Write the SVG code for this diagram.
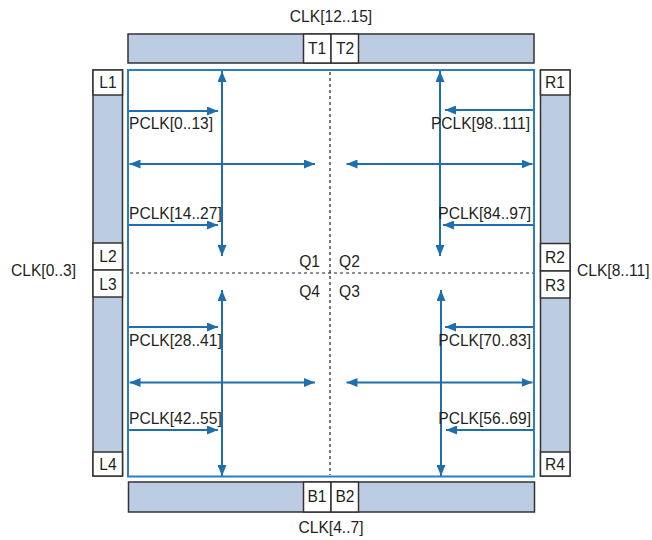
<svg xmlns="http://www.w3.org/2000/svg" width="652" height="540" viewBox="0 0 652 540">
<style>
text{font-family:"Liberation Sans",Arial,sans-serif;font-size:15.6px;fill:#231f20}
.bar{fill:#bccce3;stroke:#333;stroke-width:1.5}
.box{fill:#fff;stroke:#333;stroke-width:1.5}
.c{text-anchor:middle}
.r{text-anchor:end}
.ar{stroke:#1f6fb0;stroke-width:2;fill:none}
.dash{stroke:#222;stroke-width:1.2;stroke-dasharray:3 3;fill:none}
</style>
<defs>
<marker id="ah" viewBox="0 0 11 9" refX="11" refY="4.5" markerWidth="11" markerHeight="9" markerUnits="userSpaceOnUse" orient="auto-start-reverse">
<path d="M0,0 L11,4.5 L0,9 Z" fill="#1f6fb0"/>
</marker>
</defs>
<g id="top-bar">
<rect class="bar" x="128" y="34" width="406" height="29"/>
<rect class="box" x="303.5" y="34" width="27.5" height="29"/>
<text class="c" x="317" y="54">T1</text>
<rect class="box" x="331" y="34" width="27.5" height="29"/>
<text class="c" x="345" y="54">T2</text>
<text class="c" x="331" y="22">CLK[12..15]</text>
</g>
<g id="bottom-bar">
<rect class="bar" x="128.5" y="482" width="406" height="30"/>
<rect class="box" x="303.5" y="482" width="27.5" height="30"/>
<text class="c" x="317" y="502">B1</text>
<rect class="box" x="331" y="482" width="27.5" height="30"/>
<text class="c" x="345" y="502">B2</text>
<text class="c" x="331" y="533">CLK[4..7]</text>
</g>
<g id="left-bar">
<rect class="bar" x="93" y="70" width="29.5" height="406"/>
<rect class="box" x="93" y="70" width="29.5" height="25"/>
<text class="c" x="108" y="88">L1</text>
<rect class="box" x="93" y="243" width="29.5" height="27"/>
<text class="c" x="108" y="262">L2</text>
<rect class="box" x="93" y="270" width="29.5" height="27"/>
<text class="c" x="108" y="290">L3</text>
<rect class="box" x="93" y="452" width="29.5" height="24"/>
<text class="c" x="108" y="470">L4</text>
<text x="11" y="276">CLK[0..3]</text>
</g>
<g id="right-bar">
<rect class="bar" x="540.5" y="70" width="29.5" height="406"/>
<rect class="box" x="540.5" y="70" width="29.5" height="25"/>
<text class="c" x="555" y="88">R1</text>
<rect class="box" x="540.5" y="243.5" width="29.5" height="27.5"/>
<text class="c" x="555" y="263">R2</text>
<rect class="box" x="540.5" y="271" width="29.5" height="27"/>
<text class="c" x="555" y="291">R3</text>
<rect class="box" x="540.5" y="452" width="29.5" height="24"/>
<text class="c" x="555" y="470">R4</text>
<text x="577" y="276">CLK[8..11]</text>
</g>
<g id="core">
<rect x="128" y="70" width="406" height="406.5" fill="none" stroke="#2b7fc0" stroke-width="2"/>
<line class="dash" x1="330" y1="72" x2="330" y2="475"/>
<line class="dash" x1="130" y1="273" x2="533" y2="273"/>
<text class="r" x="320" y="267">Q1</text>
<text x="339" y="267">Q2</text>
<text class="r" x="320" y="297">Q4</text>
<text x="339" y="297">Q3</text>
</g>
<g id="connectors">
<line class="ar" x1="222" y1="256" x2="222" y2="71" marker-start="url(#ah)" marker-end="url(#ah)"/>
<line class="ar" x1="222" y1="290" x2="222" y2="476" marker-start="url(#ah)" marker-end="url(#ah)"/>
<line class="ar" x1="440" y1="256" x2="440" y2="71" marker-start="url(#ah)" marker-end="url(#ah)"/>
<line class="ar" x1="441" y1="290" x2="441" y2="476" marker-start="url(#ah)" marker-end="url(#ah)"/>
<line class="ar" x1="129.5" y1="164" x2="315" y2="164" marker-start="url(#ah)" marker-end="url(#ah)"/>
<line class="ar" x1="346.5" y1="164" x2="532.5" y2="164" marker-start="url(#ah)" marker-end="url(#ah)"/>
<line class="ar" x1="129.5" y1="382.5" x2="315" y2="382.5" marker-start="url(#ah)" marker-end="url(#ah)"/>
<line class="ar" x1="346.5" y1="382.5" x2="532.5" y2="382.5" marker-start="url(#ah)" marker-end="url(#ah)"/>
<line class="ar" x1="129" y1="111" x2="218" y2="111" marker-end="url(#ah)"/>
<line class="ar" x1="129" y1="225" x2="218" y2="225" marker-end="url(#ah)"/>
<line class="ar" x1="129" y1="327" x2="218" y2="327" marker-end="url(#ah)"/>
<line class="ar" x1="129" y1="430" x2="218" y2="430" marker-end="url(#ah)"/>
<line class="ar" x1="533" y1="110" x2="445" y2="110" marker-end="url(#ah)"/>
<line class="ar" x1="533" y1="225" x2="443" y2="225" marker-end="url(#ah)"/>
<line class="ar" x1="533" y1="327" x2="445" y2="327" marker-end="url(#ah)"/>
<line class="ar" x1="533" y1="430" x2="446" y2="430" marker-end="url(#ah)"/>
</g>
<g id="labels">
<text x="129" y="129">PCLK[0..13]</text>
<text x="129" y="219">PCLK[14..27]</text>
<text x="129" y="346">PCLK[28..41]</text>
<text x="129" y="424">PCLK[42..55]</text>
<text class="r" x="530" y="129">PCLK[98..111]</text>
<text class="r" x="531" y="219">PCLK[84..97]</text>
<text class="r" x="531" y="346">PCLK[70..83]</text>
<text class="r" x="531" y="424">PCLK[56..69]</text>
</g>
</svg>
